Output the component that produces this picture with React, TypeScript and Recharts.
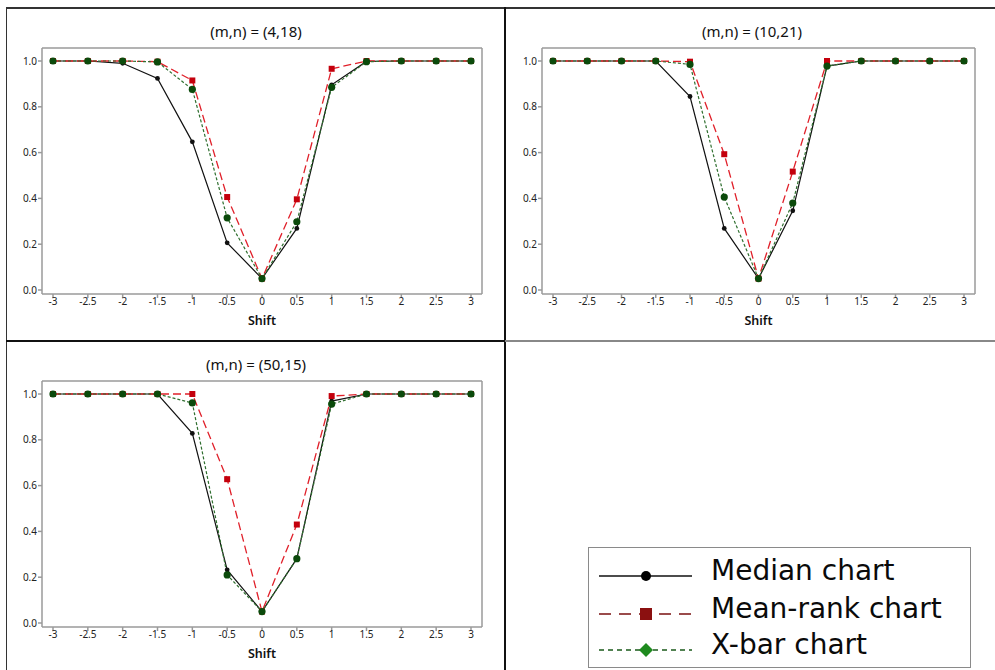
import React from 'react';
import { LineChart, Line, XAxis, YAxis, Label } from 'recharts';

const shifts = [-3, -2.5, -2, -1.5, -1, -0.5, 0, 0.5, 1, 1.5, 2, 2.5, 3];
const xTicks = [-3, -2.5, -2, -1.5, -1, -0.5, 0, 0.5, 1, 1.5, 2, 2.5, 3];
const yTicks = [0, 0.2, 0.4, 0.6, 0.8, 1.0];
const seriesNames = ['Median chart', 'Mean-rank chart', 'X-bar chart'];
const panelTitles = ['(m,n) = (4,18)', '(m,n) = (10,21)', '(m,n) = (50,15)'];
const xLabel = 'Shift';

// Panel 1: (m,n) = (4,18)
const p1Median = [1, 1, 0.99, 0.924, 0.647, 0.206, 0.05, 0.269, 0.896, 0.998, 1, 1, 1];
const p1MeanRank = [1, 1, 1, 0.997, 0.915, 0.406, 0.05, 0.396, 0.966, 1, 1, 1, 1];
const p1Xbar = [1, 1, 1, 0.996, 0.876, 0.315, 0.05, 0.298, 0.885, 0.997, 1, 1, 1];

// Panel 2: (m,n) = (10,21)
const p2Median = [1, 1, 1, 1, 0.845, 0.269, 0.05, 0.346, 0.978, 1, 1, 1, 1];
const p2MeanRank = [1, 1, 1, 1, 0.997, 0.593, 0.05, 0.517, 1, 1, 1, 1, 1];
const p2Xbar = [1, 1, 1, 1, 0.985, 0.406, 0.05, 0.38, 0.978, 1, 1, 1, 1];

// Panel 3: (m,n) = (50,15)
const p3Median = [1, 1, 1, 1, 0.828, 0.232, 0.05, 0.281, 0.969, 1, 1, 1, 1];
const p3MeanRank = [1, 1, 1, 1, 1, 0.628, 0.05, 0.43, 0.991, 1, 1, 1, 1];
const p3Xbar = [1, 1, 1, 1, 0.961, 0.21, 0.05, 0.281, 0.956, 1, 1, 1, 1];

const buildData = (median: number[], meanRank: number[], xbar: number[]) =>
  shifts.map((s, i) => ({ shift: s, median: median[i], meanRank: meanRank[i], xbar: xbar[i] }));

const FONT = '"Noto Sans", "Open Sans", sans-serif';
const FRAME = '#9a9a9a';

const SquareDot = (props: any) => {
  const { cx, cy, index } = props;
  if (cx == null || cy == null) return <g key={`sq-${index}`} />;
  return <rect key={`sq-${index}`} x={cx - 3} y={cy - 3} width={6} height={6} fill="#c4000c" />;
};

type PanelProps = {
  left: number;
  top: number;
  width: number;
  height: number;
  marginTop: number;
  marginRight: number;
  xAxisHeight: number;
  labelOffset: number;
  data: any[];
  title: string;
  titleTop: number;
  titleCenter: number;
};

const Panel = (p: PanelProps) => (
  <>
    <div
      style={{
        position: 'absolute',
        left: p.titleCenter - 150,
        width: 300,
        top: p.titleTop,
        textAlign: 'center',
        fontFamily: FONT,
        fontSize: 15,
        lineHeight: '18px',
        color: '#111',
      }}
    >
      {p.title}
    </div>
    <div style={{ position: 'absolute', left: p.left, top: p.top }}>
      <LineChart
        width={p.width}
        height={p.height}
        data={p.data}
        margin={{ top: p.marginTop - 1, right: p.marginRight - 1, bottom: 0, left: 0 }}
      >
        <XAxis
          dataKey="shift"
          type="number"
          domain={[-3, 3]}
          ticks={xTicks}
          interval={0}
          padding={{ left: 11, right: 11 }}
          height={p.xAxisHeight}
          tickSize={4}
          tickMargin={0}
          stroke={FRAME}
          strokeWidth={1.5}
          tick={{ fontSize: 10, fill: '#222', fontFamily: FONT }}
        >
          <Label
            value={xLabel}
            position="insideBottom"
            offset={p.labelOffset}
            style={{ fontSize: 12.5, fill: '#111', fontFamily: FONT, fontWeight: 600 }}
          />
        </XAxis>
        <XAxis
          xAxisId="top"
          orientation="top"
          dataKey="shift"
          type="number"
          domain={[-3, 3]}
          height={1}
          tick={false}
          tickLine={false}
          stroke={FRAME}
          strokeWidth={1.5}
        />
        <YAxis
          type="number"
          domain={[0, 1]}
          ticks={yTicks}
          interval={0}
          padding={{ top: 13, bottom: 4 }}
          width={42}
          tickSize={4}
          tickMargin={1}
          stroke={FRAME}
          strokeWidth={1.5}
          tickFormatter={(v: number) => v.toFixed(1)}
          tick={{ fontSize: 10, fill: '#222', fontFamily: FONT }}
        />
        <YAxis
          yAxisId="right"
          orientation="right"
          type="number"
          domain={[0, 1]}
          width={1}
          tick={false}
          tickLine={false}
          stroke={FRAME}
          strokeWidth={1.5}
        />
        <Line
          dataKey="median"
          name={seriesNames[0]}
          stroke="#111"
          strokeWidth={1.2}
          dot={{ r: 2.4, fill: '#111', stroke: '#111', strokeWidth: 0 }}
          isAnimationActive={false}
        />
        <Line
          dataKey="meanRank"
          name={seriesNames[1]}
          stroke="#e0202a"
          strokeWidth={1.3}
          strokeDasharray="8 4"
          dot={SquareDot}
          isAnimationActive={false}
        />
        <Line
          dataKey="xbar"
          name={seriesNames[2]}
          stroke="#2f6f2f"
          strokeWidth={1.2}
          strokeDasharray="3 2"
          dot={{ r: 3.6, fill: '#0b4a0b', stroke: '#0b4a0b', strokeWidth: 0 }}
          isAnimationActive={false}
        />
      </LineChart>
    </div>
  </>
);

const LegendIcon = ({ kind }: { kind: number }) => {
  if (kind === 0) {
    return (
      <svg width={93} height={20}>
        <line x1={0} y1={10} x2={93} y2={10} stroke="#111" strokeWidth={1.5} />
        <circle cx={47} cy={10} r={5} fill="#000" />
      </svg>
    );
  }
  if (kind === 1) {
    return (
      <svg width={93} height={20}>
        <line x1={0} y1={10} x2={93} y2={10} stroke="#7a1010" strokeWidth={1.5} strokeDasharray="12 8" />
        <rect x={41} y={4} width={12} height={12} fill="#8b1010" />
      </svg>
    );
  }
  return (
    <svg width={93} height={20}>
      <line x1={0} y1={10} x2={93} y2={10} stroke="#1a5a1a" strokeWidth={1.5} strokeDasharray="5 4" />
      <polygon points="47,3 54,10 47,17 40,10" fill="#1e8a1e" />
    </svg>
  );
};

const legendRowTops = [18, 56, 92];

export default function App() {
  const d1 = buildData(p1Median, p1MeanRank, p1Xbar);
  const d2 = buildData(p2Median, p2MeanRank, p2Xbar);
  const d3 = buildData(p3Median, p3MeanRank, p3Xbar);
  return (
    <div
      style={{
        position: 'absolute',
        left: 0,
        top: 0,
        width: 995,
        height: 670,
        background: '#fff',
        overflow: 'hidden',
      }}
    >
      {/* panel borders */}
      <div style={{ position: 'absolute', left: 6, top: 7, width: 989, height: 1.5, background: '#333' }} />
      <div style={{ position: 'absolute', left: 5.5, top: 7, width: 1.5, height: 663, background: '#333' }} />
      <div style={{ position: 'absolute', left: 503.5, top: 7, width: 2.2, height: 663, background: '#111' }} />
      <div style={{ position: 'absolute', left: 6, top: 340, width: 499, height: 2, background: '#111' }} />
      <div style={{ position: 'absolute', left: 505, top: 340, width: 490, height: 2, background: '#888' }} />

      <Panel
        left={0}
        top={0}
        width={500}
        height={340}
        marginTop={48}
        marginRight={18}
        xAxisHeight={46}
        labelOffset={15.5}
        data={d1}
        title={panelTitles[0]}
        titleTop={22}
        titleCenter={256}
      />
      <Panel
        left={500}
        top={0}
        width={495}
        height={340}
        marginTop={48}
        marginRight={20}
        xAxisHeight={46}
        labelOffset={15.5}
        data={d2}
        title={panelTitles[1]}
        titleTop={22}
        titleCenter={752}
      />
      <Panel
        left={0}
        top={335}
        width={500}
        height={335}
        marginTop={46}
        marginRight={18}
        xAxisHeight={43}
        labelOffset={12.5}
        data={d3}
        title={panelTitles[2]}
        titleTop={355}
        titleCenter={256}
      />

      {/* legend */}
      <div
        style={{
          position: 'absolute',
          left: 588,
          top: 547,
          width: 381,
          height: 119,
          border: '1.5px solid #8a8a8a',
          background: '#fff',
        }}
      >
        {seriesNames.map((name, i) => (
          <div key={name} style={{ position: 'absolute', left: 0, top: legendRowTops[i], height: 20, width: 380 }}>
            <div style={{ position: 'absolute', left: 10, top: 0 }}>
              <LegendIcon kind={i} />
            </div>
            <div
              style={{
                position: 'absolute',
                left: 122,
                top: -12,
                fontFamily: '"DejaVu Sans", sans-serif',
                fontSize: 28,
                lineHeight: '34px',
                color: '#0a0a0a',
                whiteSpace: 'nowrap',
              }}
            >
              {name}
            </div>
          </div>
        ))}
      </div>
    </div>
  );
}
